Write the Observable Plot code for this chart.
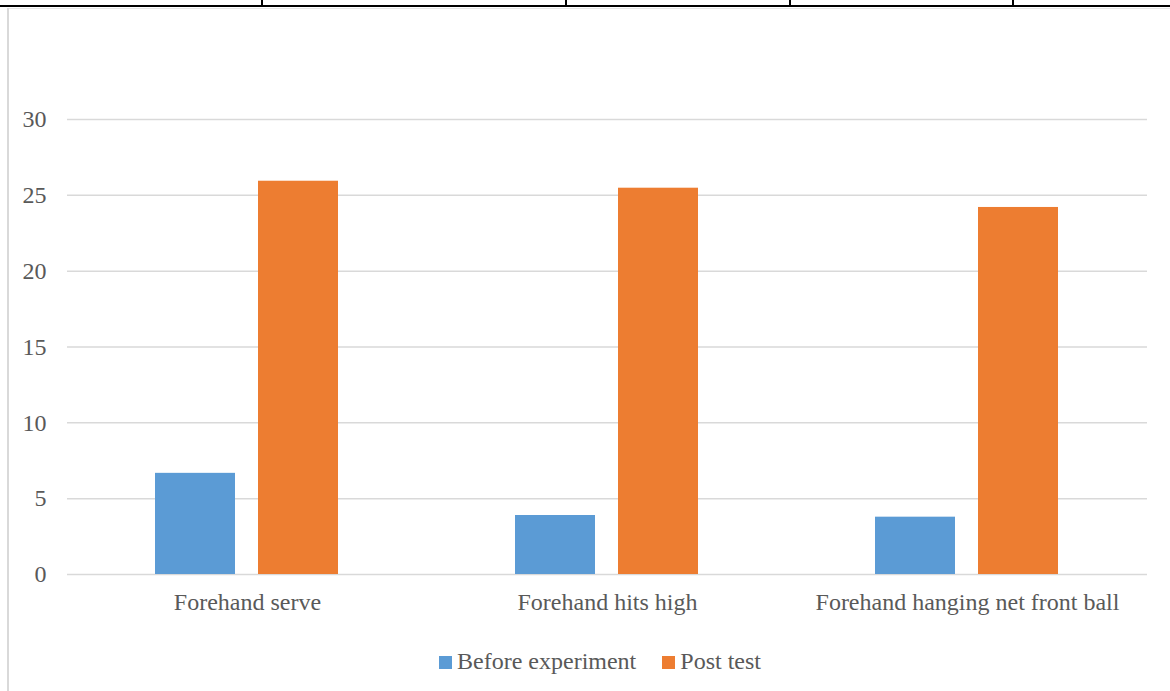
<!DOCTYPE html>
<html>
<head>
<meta charset="utf-8">
<script src="https://cdn.jsdelivr.net/npm/d3@7"></script>
<script src="https://cdn.jsdelivr.net/npm/@observablehq/plot@0.6"></script>
<style>
  html, body { margin: 0; padding: 0; background: #fff; }
  #wrap { position: relative; width: 1170px; height: 691px; overflow: hidden; font-family: "Liberation Serif", "Times New Roman", serif; }
  #chart { position: absolute; left: 0; top: 0; }
  .topline { position: absolute; left: 0; top: 5px; width: 1170px; height: 2px; background: #000; }
  .vtick { position: absolute; top: 0; width: 2px; height: 6px; background: #000; }
  .frame-top { position: absolute; left: 7px; top: 8px; width: 1163px; height: 1px; background: #e6e6e6; }
  .frame-left { position: absolute; left: 7px; top: 8px; width: 2px; height: 683px; background: #d9d9d9; }
  #legend { position: absolute; top: 648px; left: 0; width: 1200px; display: flex; justify-content: center; gap: 26px; font-size: 24px; color: #595959; }
  #legend .item { display: flex; align-items: center; }
  #legend .sw { width: 13px; height: 13px; margin-right: 5px; margin-top: 2px; }
</style>
</head>
<body>
<div id="wrap">
  <div class="topline"></div>
  <div class="vtick" style="left:261px"></div>
  <div class="vtick" style="left:565px"></div>
  <div class="vtick" style="left:789px"></div>
  <div class="vtick" style="left:1012px"></div>
  <div class="frame-top"></div>
  <div class="frame-left"></div>
  <div id="chart"></div>
  <div id="legend"></div>
</div>
<script>
const categories = ["Forehand serve", "Forehand hits high", "Forehand hanging net front ball"];
const seriesNames = ["Before experiment", "Post test"];
const beforeValues = [6.67, 3.89, 3.78];
const postValues = [25.93, 25.47, 24.2];
const yTicks = [0, 5, 10, 15, 20, 25, 30];
const colors = ["#5B9BD5", "#ED7D31"];

const data = [];
categories.forEach((c, i) => {
  data.push({cat: c, series: seriesNames[0], value: beforeValues[i]});
  data.push({cat: c, series: seriesNames[1], value: postValues[i]});
});

const chart = Plot.plot({
  width: 1170,
  height: 630,
  marginLeft: 66,
  marginRight: 23,
  marginTop: 119,
  marginBottom: 56,
  style: {fontFamily: "'Liberation Serif', 'Times New Roman', serif", fontSize: "24px", color: "#595959", background: "transparent"},
  fx: {domain: categories, padding: 0, label: null, tickSize: 0, tickPadding: 18},
  x: {domain: seriesNames, paddingInner: 0.2233, paddingOuter: 0.859, axis: null},
  y: {domain: [0, 30], ticks: yTicks, tickSize: 0, tickPadding: 21, label: null},
  color: {domain: seriesNames, range: colors},
  marks: [
    Plot.ruleY(yTicks, {stroke: "#d9d9d9", strokeWidth: 1.5}),
    Plot.barY(data, {fx: "cat", x: "series", y: "value", fill: "series"})
  ]
});
document.getElementById("chart").appendChild(chart);

const legend = document.getElementById("legend");
seriesNames.forEach((s, i) => {
  const item = document.createElement("div");
  item.className = "item";
  const sw = document.createElement("span");
  sw.className = "sw";
  sw.style.background = colors[i];
  const t = document.createElement("span");
  t.textContent = s;
  item.appendChild(sw);
  item.appendChild(t);
  legend.appendChild(item);
});
</script>
</body>
</html>
